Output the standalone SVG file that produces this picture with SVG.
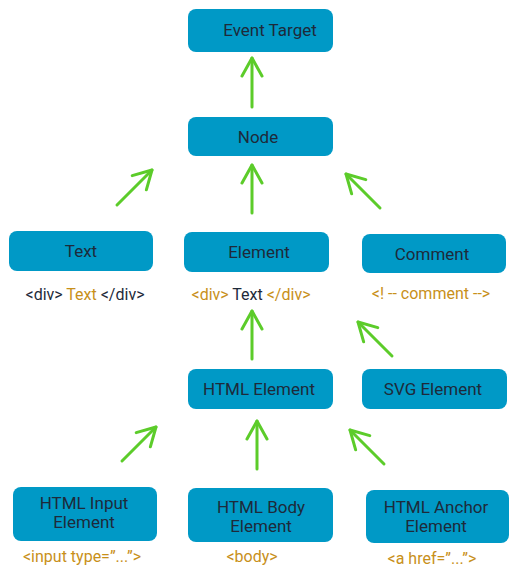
<svg xmlns="http://www.w3.org/2000/svg" width="525" height="575" viewBox="0 0 525 575">
<style>
.box{fill:#0099c6}
.t{font-family:Roboto,"Liberation Sans",sans-serif;font-size:17px;fill:#1e2a3a;text-anchor:middle}
.l{font-family:Roboto,"Liberation Sans",sans-serif;font-size:16px;fill:#c8901a;text-anchor:middle}
.d{fill:#1e2a3a}
.c{stroke:#5ccc2a;stroke-width:3;fill:none;stroke-linecap:round;stroke-linejoin:round}
</style>
<defs>
<marker id="ah" markerUnits="userSpaceOnUse" markerWidth="30" markerHeight="30" refX="0" refY="0" viewBox="-20 -15 30 30" orient="auto" overflow="visible">
<path d="M-18,-10 L0,0 L-18,10" fill="none" stroke="#5ccc2a" stroke-width="3" stroke-linecap="round" stroke-linejoin="round"/>
</marker>
</defs>
<rect width="525" height="575" fill="#fff"/>
<g id="connectors" class="c" marker-end="url(#ah)">
<line x1="252" y1="107" x2="252" y2="58"/>
<line x1="117" y1="205" x2="152" y2="170"/>
<line x1="252" y1="213" x2="252" y2="165"/>
<line x1="380" y1="208" x2="346" y2="174"/>
<line x1="252" y1="359" x2="252" y2="311"/>
<line x1="392" y1="356" x2="358" y2="322"/>
<line x1="122" y1="461" x2="156" y2="427"/>
<line x1="257" y1="469" x2="257" y2="421"/>
<line x1="384" y1="464" x2="350" y2="430"/>
</g>
<g id="event-target"><rect class="box" x="188" y="9" width="145" height="43" rx="8"/><text class="t" x="270" y="36">Event Target</text></g>
<g id="node"><rect class="box" x="188" y="117" width="145" height="39" rx="8"/><text class="t" x="258" y="143">Node</text></g>
<g id="text"><rect class="box" x="9" y="231" width="144" height="40" rx="8"/><text class="t" x="81" y="257">Text</text>
<text class="l" x="85" y="300"><tspan class="d">&lt;div&gt; </tspan>Text<tspan class="d"> &lt;/div&gt;</tspan></text></g>
<g id="element"><rect class="box" x="184" y="232" width="145" height="40" rx="8"/><text class="t" x="259" y="258">Element</text>
<text class="l" x="251" y="300">&lt;div&gt; <tspan class="d">Text</tspan> &lt;/div&gt;</text></g>
<g id="comment"><rect class="box" x="362" y="234" width="144" height="39" rx="8"/><text class="t" x="432" y="260">Comment</text>
<text class="l" x="431" y="299">&lt;! -- comment --&gt;</text></g>
<g id="html-element"><rect class="box" x="188" y="369" width="145" height="40" rx="8"/><text class="t" x="259" y="395">HTML Element</text></g>
<g id="svg-element"><rect class="box" x="362" y="369" width="145" height="40" rx="8"/><text class="t" x="433" y="395">SVG Element</text></g>
<g id="html-input"><rect class="box" x="13" y="487" width="144" height="54" rx="8"/><text class="t" x="84" y="509">HTML Input</text><text class="t" x="84" y="528">Element</text>
<text class="l" x="82" y="562">&lt;input type=”...”&gt;</text></g>
<g id="html-body"><rect class="box" x="188" y="488" width="145" height="54" rx="8"/><text class="t" x="261" y="513">HTML Body</text><text class="t" x="261" y="532">Element</text>
<text class="l" x="252" y="562">&lt;body&gt;</text></g>
<g id="html-anchor"><rect class="box" x="366" y="490" width="143" height="53" rx="8"/><text class="t" x="436" y="513">HTML Anchor</text><text class="t" x="436" y="532">Element</text>
<text class="l" x="432" y="564">&lt;a href=”...”&gt;</text></g>
</svg>
